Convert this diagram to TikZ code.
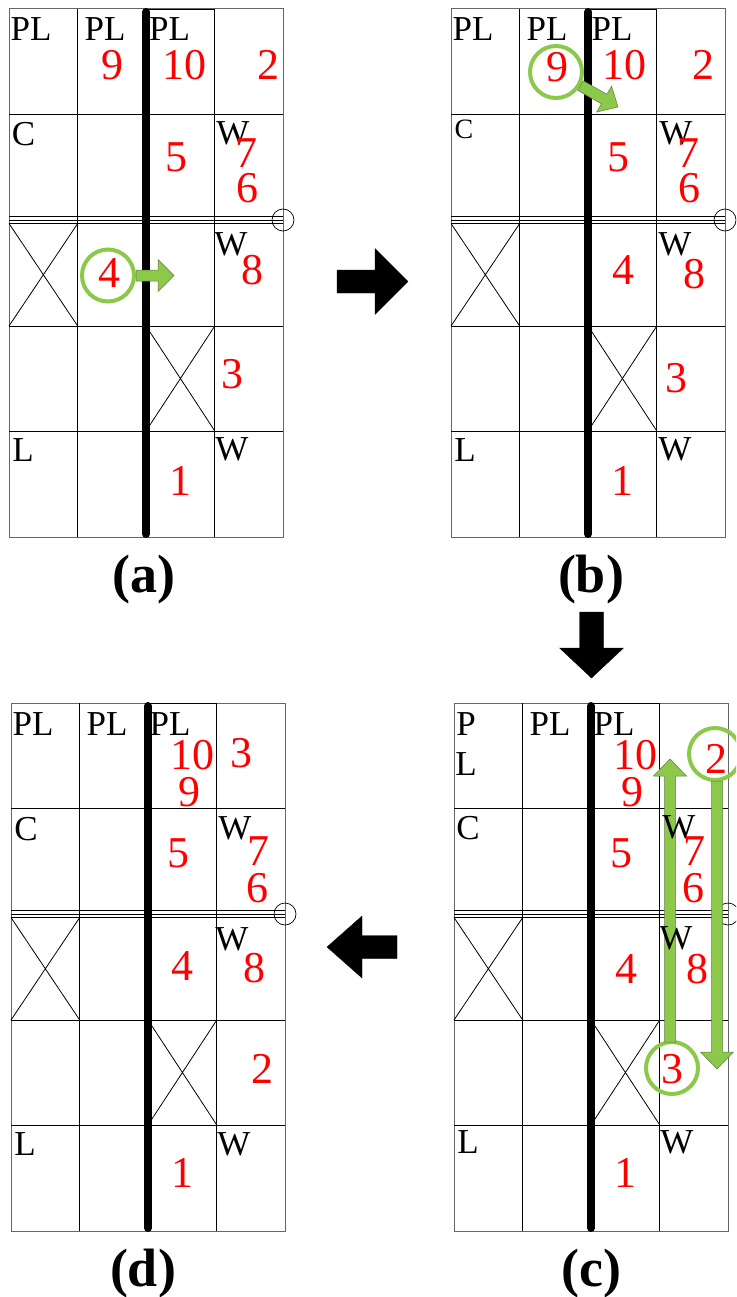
\documentclass[tikz,border=0pt]{standalone}
\usepackage{fontspec}
\setmainfont{Liberation Serif}
\usetikzlibrary{calc}
\definecolor{gfill}{HTML}{8CC84A}
\definecolor{gedge}{HTML}{5F7F45}
\definecolor{rednum}{HTML}{FF0000}
\newcounter{lblc}
\tikzset{
  gridln/.style={draw=black,line width=0.8pt},
  outerln/.style={draw=black!60,line width=1pt},
  spine/.style={draw=black,line width=8pt,line cap=round},
  ring/.style={circle,draw=gfill,line width=4pt,minimum size=52pt,inner sep=0pt},
  port/.style={circle,draw=black,line width=0.7pt,minimum size=22pt,inner sep=0pt},
  greenarrow/.style={fill=gfill,draw=gedge,line width=0.5pt},
  blackarrow/.style={fill=black,draw=black,line width=0.3pt},
  lab/.style={anchor=base,inner sep=0pt,text=black,font=\fontsize{35}{35}\selectfont},
  smalllab/.style={anchor=base,inner sep=0pt,text=black,font=\fontsize{28}{28}\selectfont},
  num/.style={anchor=base,inner sep=0pt,text=rednum,font=\fontsize{44}{44}\selectfont},
  captext/.style={anchor=base,inner sep=0pt,text=black,font=\bfseries\fontsize{54}{54}\selectfont},
}
\newcommand{\lbl}[4]{\stepcounter{lblc}\node[#1] (t\arabic{lblc}) at (#2,#3) {#4};}
% grid of one panel; #1 x offset, #2 y offset
\newcommand{\panelgrid}[2]{%
  \begin{scope}[shift={(#1,#2)}]
    \draw[outerln] (9,9) rectangle (283,537);
    \draw[gridln] (77.7,9) -- (77.7,537);
    \draw[gridln] (214.8,9) -- (214.8,537);
    \draw[gridln] (146,9) -- (214.8,9);
    \foreach \yy in {114,216.5,220,223.5,326,431} {\draw[gridln] (9,\yy) -- (283,\yy);}
    \draw[gridln] (9,223.5) -- (77.7,326) (77.7,223.5) -- (9,326);
    \draw[gridln] (146,326) -- (214.8,431) (214.8,326) -- (146,431);
    \draw[spine] (146,12) -- (146,534);
  \end{scope}}
% block arrow between named points: style, from, to, half shaft, half head, head length
\newcommand{\blockarrow}[6]{%
  \coordinate (hb) at ($(#3)!#6!(#2)$);
  \draw[#1] ($(#2)!#4!90:(#3)$) -- ($(hb)!#4!-90:(#2)$) -- ($(hb)!#5!-90:(#2)$) -- (#3)
    -- ($(hb)!#5!90:(#2)$) -- ($(hb)!#4!90:(#2)$) -- ($(#2)!#4!-90:(#3)$) -- cycle;}
\begin{document}
\begin{tikzpicture}[x=1pt,y=-1pt]
\useasboundingbox (0,0) rectangle (736,1297);
\fill[white] (0,0) rectangle (736,1297);
\clip (0,0) rectangle (736,1297);

\panelgrid{0}{0}
\panelgrid{442}{0}
\panelgrid{445}{694}
\panelgrid{2}{694}

% ports
\node[port] (pa) at (283,220) {};
\node[port] (pb) at (725,220) {};
\node[port] (pc) at (728,914) {};
\node[port] (pd) at (285,914) {};

% green rings
\node[ring] (ra) at (108,275.5) {};
\node[ring] (rb) at (556,72) {};
\node[ring] (rc2) at (715,754) {};
\node[ring] (rc3) at (672,1068) {};

% green arrows
\coordinate (ta) at (174,275.5);
\coordinate (tb) at (618,107);
\coordinate (sc3) at (670,1042);
\coordinate (tc3) at (670,759);
\coordinate (sc2) at (717,781);
\coordinate (tc2) at (717,1069);
\blockarrow{greenarrow}{ra.east}{ta}{5.5pt}{16pt}{16pt}
\blockarrow{greenarrow}{rb.-29}{tb}{5.5pt}{15pt}{16pt}
\blockarrow{greenarrow}{sc3}{tc3}{5.5pt}{16.5pt}{17pt}
\blockarrow{greenarrow}{sc2}{tc2}{5.5pt}{16.5pt}{17pt}

% black flow arrows
\coordinate (fab) at (337,281.5);  \coordinate (fabt) at (408,281.5);
\coordinate (fbc) at (591.5,612);  \coordinate (fbct) at (591.5,678);
\coordinate (fcd) at (397,947);    \coordinate (fcdt) at (327,947);
\blockarrow{blackarrow}{fab}{fabt}{11.5pt}{33pt}{33pt}
\blockarrow{blackarrow}{fbc}{fbct}{12pt}{32pt}{30pt}
\blockarrow{blackarrow}{fcd}{fcdt}{11.5pt}{31pt}{35pt}

% panel a
\lbl{lab}{31}{41}{PL} \lbl{lab}{105}{41}{PL} \lbl{lab}{169.5}{41}{PL}
\lbl{num}{112}{80}{9} \lbl{num}{184}{80}{10} \lbl{num}{268}{80}{2}
\lbl{lab}{23.5}{146}{C} \lbl{num}{176}{172}{5} \lbl{lab}{233}{145}{W}
\lbl{num}{246}{168}{7} \lbl{num}{247}{203}{6}
\lbl{lab}{231}{255}{W} \lbl{num}{252}{284}{8} \lbl{num}{109}{287}{4}
\lbl{num}{232}{388}{3}
\lbl{lab}{23}{461}{L} \lbl{lab}{232}{460}{W} \lbl{num}{180}{495}{1}

% panel b
\lbl{lab}{473}{41}{PL} \lbl{lab}{547}{41}{PL} \lbl{lab}{612}{41}{PL}
\lbl{num}{557}{82}{9} \lbl{num}{624}{80}{10} \lbl{num}{703}{80}{2}
\lbl{smalllab}{464}{139}{C} \lbl{num}{618}{172}{5} \lbl{lab}{676}{145}{W}
\lbl{num}{688}{168}{7} \lbl{num}{689}{203}{6}
\lbl{lab}{675}{255}{W} \lbl{num}{694}{288}{8} \lbl{num}{623}{284}{4}
\lbl{num}{676}{392}{3}
\lbl{lab}{465}{461}{L} \lbl{lab}{675}{460}{W} \lbl{num}{622}{495}{1}

% panel c
\lbl{lab}{466}{735}{P} \lbl{lab}{466}{775}{L} \lbl{lab}{550}{735}{PL} \lbl{lab}{614}{735}{PL}
\lbl{num}{635}{769}{10} \lbl{num}{632}{806}{9} \lbl{num}{716}{773}{2}
\lbl{lab}{468}{839}{C} \lbl{num}{621}{867}{5} \lbl{lab}{679}{838}{W}
\lbl{num}{694}{865}{7} \lbl{num}{693}{902}{6}
\lbl{lab}{676}{949}{W} \lbl{num}{697}{983}{8} \lbl{num}{626}{983}{4}
\lbl{num}{672}{1083}{3}
\lbl{lab}{468}{1153}{L} \lbl{lab}{677}{1153}{W} \lbl{num}{625}{1187}{1}

% panel d
\lbl{lab}{33}{735}{PL} \lbl{lab}{107}{735}{PL} \lbl{lab}{170}{735}{PL}
\lbl{num}{192}{769}{10} \lbl{num}{189}{806}{9} \lbl{num}{241}{767}{3}
\lbl{lab}{26}{840}{C} \lbl{num}{178}{867}{5} \lbl{lab}{235}{839}{W}
\lbl{num}{258}{865}{7} \lbl{num}{257}{902}{6}
\lbl{lab}{232}{950}{W} \lbl{num}{254}{982}{8} \lbl{num}{182}{980}{4}
\lbl{num}{262}{1083}{2}
\lbl{lab}{25}{1155}{L} \lbl{lab}{234}{1155}{W} \lbl{num}{182}{1187}{1}

% captions
\node[captext] (capa) at (144,592) {(a)};
\node[captext] (capb) at (591,592) {(b)};
\node[captext] (capc) at (591,1286) {(c)};
\node[captext] (capd) at (143,1286) {(d)};
\end{tikzpicture}
\end{document}
